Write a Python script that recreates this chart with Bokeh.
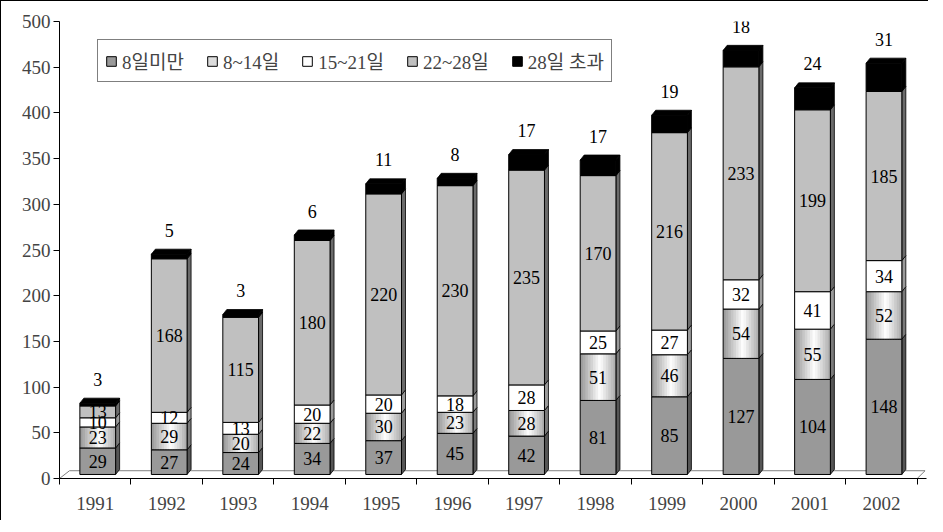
import numpy as np
from bokeh.plotting import figure
from bokeh.models import Range1d, FixedTicker, Legend, LegendItem
from bokeh.core.properties import value
from bokeh.embed import file_html
from bokeh.resources import INLINE

# ---------------- data ----------------
years = ["1991", "1992", "1993", "1994", "1995", "1996",
         "1997", "1998", "1999", "2000", "2001", "2002"]
under8 = [29, 27, 24, 34, 37, 45, 42, 81, 85, 127, 104, 148]
d8_14 = [23, 29, 20, 22, 30, 23, 28, 51, 46, 54, 55, 52]
d15_21 = [10, 12, 13, 20, 20, 18, 28, 25, 27, 32, 41, 34]
d22_28 = [13, 168, 115, 180, 220, 230, 235, 170, 216, 233, 199, 185]
over28 = [3, 5, 3, 6, 11, 8, 17, 17, 19, 18, 24, 31]
series_names = ["8일미만", "8~14일", "15~21일", "22~28일", "28일 초과"]
y_ticks = list(range(0, 501, 50))

# ---------------- style ----------------
NFONT = "Liberation Serif"
LFONT = "'Liberation Serif', 'Noto Sans CJK KR'"
front_colors = ["#999999", None, "#ffffff", "#c0c0c0", "#000000"]
side_colors = ["#555555", "#7a7a7a", "#9a9a9a", "#6a6a6a", "#000000"]
BASE = 4.4      # bar lift (3D floor)
DX = 0.056      # depth offset in x (category units)
DY = 5.5        # depth offset in y (value units)
HW = 0.25       # half width of the bar front face
SHIFT = 0.035

n = len(years)
xc = np.arange(1, n + 1) + SHIFT
left = xc - HW
right = xc + HW
series = [np.array(s, dtype=float) for s in (under8, d8_14, d15_21, d22_28, over28)]
bottoms = []
acc = np.zeros(n) + BASE
for s in series:
    bottoms.append(acc.copy())
    acc = acc + s
tops_total = acc

p = figure(width=928, height=520, output_backend="svg", toolbar_location=None,
           x_range=Range1d(0.5, 12.63), y_range=Range1d(0, 500),
           min_border_left=58, min_border_top=20, min_border_bottom=43,
           min_border_right=3)
p.styles = {"border-left": "1px solid black", "border-top": "1px solid black"}
p.outline_line_color = None
p.xgrid.visible = False
p.ygrid.visible = False
p.background_fill_color = "white"

# floor
p.line(x=[0.5, 0.5 + 0.14, 12.5 + 0.11, 12.5], y=[0, 8.5, 8.5, 0],
       line_color="#808080", line_width=1)

# side faces
for si, s in enumerate(series):
    xs, ys = [], []
    for i in range(n):
        b = bottoms[si][i]
        t = b + s[i]
        xs.append([right[i], right[i] + DX, right[i] + DX, right[i]])
        ys.append([b, b + DY, t + DY, t])
    p.patches(xs=xs, ys=ys, fill_color=side_colors[si], line_color="black",
              line_width=0.8)

# top face
xs, ys = [], []
for i in range(n):
    T = tops_total[i]
    xs.append([left[i], right[i], right[i] + DX, left[i] + DX])
    ys.append([T, T, T + DY, T + DY])
p.patches(xs=xs, ys=ys, fill_color="black", line_color="black", line_width=0.8)

# front faces
renderers = []
for si, s in enumerate(series):
    if si == 1:
        # gradient strips
        N = 14
        w = (right - left) / N
        sl, sr, sb, st, sc = [], [], [], [], []
        for i in range(n):
            for k in range(N):
                tt = (k + 0.5) / N
                shade = int(round(150 + 105 * max(0.0, 1 - abs(tt - 0.55) / 0.55)))
                sl.append(left[i] + k * w[i])
                sr.append(left[i] + (k + 1) * w[i] + (0.4 * w[i] if k < N - 1 else 0))
                sb.append(bottoms[si][i])
                st.append(bottoms[si][i] + s[i])
                sc.append("#%02x%02x%02x" % (shade, shade, shade))
        p.quad(left=sl, right=sr, bottom=sb, top=st, fill_color=sc, line_color=None)
        p.quad(left=left, right=right, bottom=bottoms[si], top=bottoms[si] + s,
               fill_color=None, line_color="black", line_width=1)
        # degenerate quad (zero size, on the bar's base edge) used for the legend swatch
        r = p.quad(left=[left[0]], right=[left[0]], bottom=[BASE], top=[BASE],
                   fill_color="#dcdcdc", line_color="black", line_width=1)
        renderers.append(r)
    else:
        r = p.quad(left=left, right=right, bottom=bottoms[si], top=bottoms[si] + s,
                   fill_color=front_colors[si], line_color="black", line_width=1)
        renderers.append(r)

# labels inside segments
lx, ly, lt = [], [], []
for si in range(4):
    s = series[si]
    for i in range(n):
        lx.append(xc[i])
        ly.append(bottoms[si][i] + s[i] / 2)
        lt.append(str(int(s[i])))
p.text(x=lx, y=ly, text=lt, text_font=value(NFONT), text_font_size="18px",
       text_align="center", text_baseline="middle", text_color="black")

# labels above bars (28일 초과)
p.text(x=list(xc), y=list(tops_total), text=[str(v) for v in over28],
       text_font=value(NFONT), text_font_size="18px", text_align="center",
       text_baseline="middle", y_offset=-24, text_color="black")

# axes
p.yaxis.ticker = FixedTicker(ticks=y_ticks)
p.yaxis.major_tick_out = 6
p.yaxis.major_tick_in = 0
p.yaxis.minor_tick_line_color = None
p.yaxis.major_label_standoff = 3
p.yaxis.major_label_text_font = NFONT
p.yaxis.major_label_text_font_size = "19px"
p.yaxis.axis_line_color = "black"

p.xaxis.ticker = FixedTicker(ticks=list(range(1, n + 1)),
                             minor_ticks=[k + 0.5 for k in range(0, n + 1)])
p.xaxis.major_label_overrides = {i + 1: years[i] for i in range(n)}
p.xaxis.major_tick_line_color = None
p.xaxis.major_tick_out = 8
p.xaxis.major_tick_in = 0
p.xaxis.minor_tick_out = 6
p.xaxis.minor_tick_in = 0
p.xaxis.minor_tick_line_color = "black"
p.xaxis.major_label_standoff = 10
p.xaxis.major_label_text_font = NFONT
p.xaxis.major_label_text_font_size = "19px"
p.xaxis.axis_line_color = "black"

# legend
items = [LegendItem(label=series_names[k], renderers=[renderers[k]]) for k in range(5)]
legend = Legend(items=items, orientation="horizontal", location=(38, 396),
                label_text_font=LFONT, label_text_font_size="19px",
                glyph_width=12, glyph_height=12, label_standoff=5, spacing=22,
                padding=7, margin=0, border_line_color="black", border_line_width=1,
                background_fill_color="white", background_fill_alpha=1)
p.add_layout(legend, "center")

open("out.html", "w").write(file_html(p, INLINE))
